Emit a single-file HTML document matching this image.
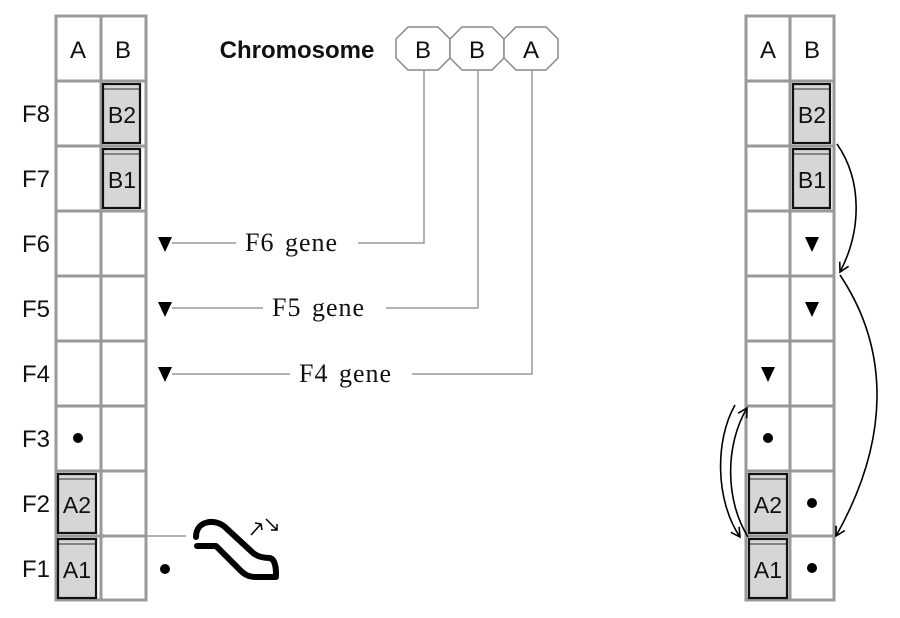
<!DOCTYPE html>
<html><head><meta charset="utf-8"><style>
html,body{margin:0;padding:0;background:#fff;}
svg{display:block;}
.s{font-family:"Liberation Sans",sans-serif;font-size:24px;fill:#111;}
.r{font-family:"Liberation Serif",serif;font-size:26px;fill:#111;letter-spacing:1px;word-spacing:3px;}
</style></head><body>
<svg width="900" height="618" viewBox="0 0 900 618" xmlns="http://www.w3.org/2000/svg">
<defs>
<marker id="ah" markerWidth="12" markerHeight="12" refX="10" refY="6" orient="auto" markerUnits="userSpaceOnUse">
<path d="M1,1 L10,6 L1,11" fill="none" stroke="#000" stroke-width="1.6"/>
</marker>
</defs>
<g stroke="#999" stroke-width="3" fill="none">
<rect x="56" y="16" width="90" height="584"/>
<line x1="101" y1="16" x2="101" y2="600"/>
<line x1="56" y1="81" x2="146" y2="81"/><line x1="56" y1="146" x2="146" y2="146"/>
<line x1="56" y1="211" x2="146" y2="211"/><line x1="56" y1="276" x2="146" y2="276"/>
<line x1="56" y1="341" x2="146" y2="341"/><line x1="56" y1="406" x2="146" y2="406"/>
<line x1="56" y1="471" x2="146" y2="471"/><line x1="56" y1="536" x2="146" y2="536"/>
<rect x="746" y="16" width="88" height="584"/>
<line x1="790" y1="16" x2="790" y2="600"/>
<line x1="746" y1="81" x2="834" y2="81"/><line x1="746" y1="146" x2="834" y2="146"/>
<line x1="746" y1="211" x2="834" y2="211"/><line x1="746" y1="276" x2="834" y2="276"/>
<line x1="746" y1="341" x2="834" y2="341"/><line x1="746" y1="406" x2="834" y2="406"/>
<line x1="746" y1="471" x2="834" y2="471"/><line x1="746" y1="536" x2="834" y2="536"/>
</g>
<g class="s" text-anchor="middle">
<text x="78" y="58">A</text><text x="123" y="58">B</text>
<text x="768" y="58">A</text><text x="812" y="58">B</text>
</g>
<g class="s" text-anchor="end">
<text x="50" y="122">F8</text><text x="50" y="187">F7</text><text x="50" y="252">F6</text>
<text x="50" y="317">F5</text><text x="50" y="382">F4</text><text x="50" y="447">F3</text>
<text x="50" y="512">F2</text><text x="50" y="577">F1</text>
</g>
<g stroke="#111" stroke-width="2.2" fill="#d6d6d6">
<rect x="103" y="84" width="37" height="59"/><rect x="103" y="149" width="37" height="59"/>
<rect x="58" y="474" width="38" height="59"/><rect x="58" y="539" width="38" height="59"/>
<rect x="793" y="84" width="37" height="59"/><rect x="793" y="149" width="37" height="59"/>
<rect x="749" y="474" width="38" height="59"/><rect x="749" y="539" width="38" height="59"/>
</g>
<g stroke="#333" stroke-width="1">
<line x1="104" y1="89" x2="139" y2="89"/><line x1="104" y1="154" x2="139" y2="154"/>
<line x1="59" y1="479" x2="95" y2="479"/><line x1="59" y1="544" x2="95" y2="544"/>
<line x1="794" y1="89" x2="829" y2="89"/><line x1="794" y1="154" x2="829" y2="154"/>
<line x1="750" y1="479" x2="786" y2="479"/><line x1="750" y1="544" x2="786" y2="544"/>
</g>
<g class="s" text-anchor="middle" style="font-size:23px">
<text x="122" y="123">B2</text><text x="122" y="188">B1</text>
<text x="77" y="513">A2</text><text x="77" y="578">A1</text>
<text x="812" y="123">B2</text><text x="812" y="188">B1</text>
<text x="768" y="513">A2</text><text x="768" y="578">A1</text>
</g>
<g fill="#000">
<circle cx="78" cy="438" r="5"/><circle cx="165" cy="569" r="5"/>
<circle cx="768" cy="438" r="5"/><circle cx="812" cy="503" r="5"/><circle cx="812" cy="568" r="5"/>
<path d="M158,237 L172,237 L165,252Z"/><path d="M158,302 L172,302 L165,317Z"/><path d="M158,367 L172,367 L165,382Z"/>
<path d="M805,237 L819,237 L812,252Z"/><path d="M805,302 L819,302 L812,317Z"/><path d="M761,367 L775,367 L768,382Z"/>
</g>
<text x="297" y="58" text-anchor="middle" style="font-family:'Liberation Sans',sans-serif;font-weight:bold;font-size:24px;fill:#111">Chromosome</text>
<g stroke="#888" stroke-width="1.5" fill="#fff">
<path d="M408,27 L438,27 L450,39 L450,58 L438,70 L408,70 L396,58 L396,39Z"/>
<path d="M462,27 L492,27 L504,39 L504,58 L492,70 L462,70 L450,58 L450,39Z"/>
<path d="M516,27 L546,27 L558,39 L558,58 L546,70 L516,70 L504,58 L504,39Z"/>
</g>
<g class="s" text-anchor="middle"><text x="423" y="58">B</text><text x="477" y="58">B</text><text x="531" y="58">A</text></g>
<g stroke="#999" stroke-width="1.5" fill="none">
<path d="M424,70 V243 H358"/><path d="M236,243 H172"/>
<path d="M478,70 V308 H386"/><path d="M263,308 H172"/>
<path d="M532,70 V374 H412"/><path d="M290,374 H172"/>
<line x1="146" y1="536" x2="186" y2="536"/>
</g>
<g class="r"><text x="245" y="251">F6 gene</text><text x="272" y="316">F5 gene</text><text x="299" y="382">F4 gene</text></g>
<g stroke="#000" stroke-width="6" fill="none" stroke-linecap="round" stroke-linejoin="round">
<path d="M196,537 C196,520 216,518 226,528 L252,552 C256,556 262,558 270,558 C276,560 276,570 276,575"/>
<path d="M197,546 L216,546 L240,570 C244,574 248,577 256,577 L276,577"/>
</g>
<g stroke="#000" stroke-width="1.5" fill="none">
<path d="M251,535 L261,524 M255,523 L261,524 L262,530"/>
<path d="M266,519 L277,530 M277,524 L277,530 L271,530"/>
</g>
<g stroke="#000" stroke-width="1.6" fill="none" marker-end="url(#ah)">
<path d="M837,144 C862,180 862,230 840,272"/>
<path d="M840,275 C890,350 890,440 836,536"/>
<path d="M735,405 C715,440 715,500 740,537"/>
<path d="M748,537 C725,500 725,445 747,408"/>
</g>
</svg>
</body></html>
